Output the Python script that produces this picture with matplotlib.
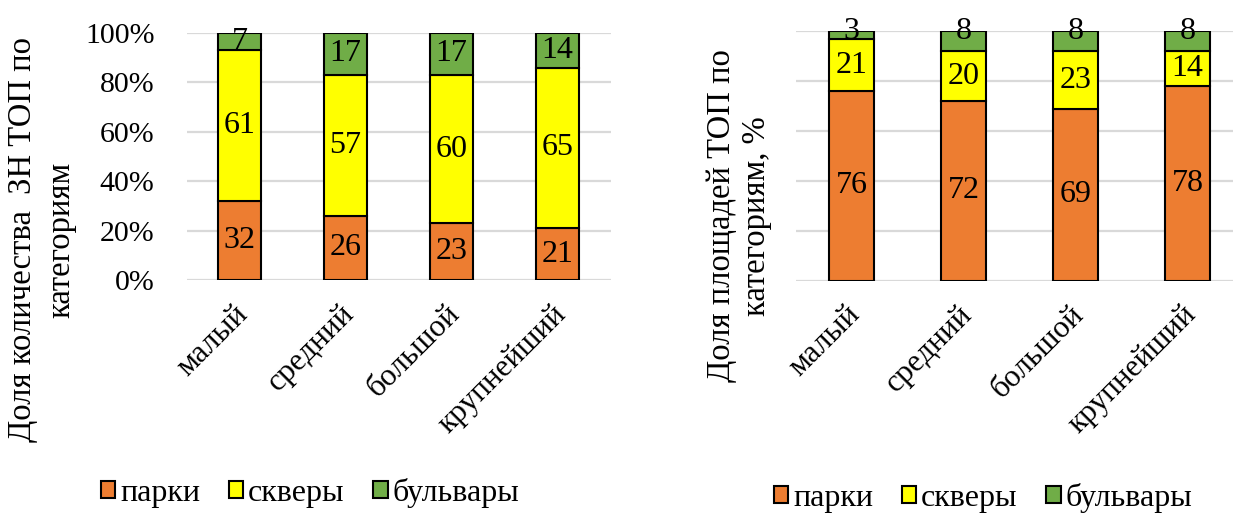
import matplotlib
matplotlib.use('Agg')
import matplotlib.pyplot as plt
import matplotlib.transforms as mtransforms
from matplotlib.patches import Patch
import numpy as np

plt.rcParams['font.family'] = ['Liberation Serif', 'DejaVu Serif']

categories = ['малый', 'средний', 'большой', 'крупнейший']
series_names = ['парки', 'скверы', 'бульвары']
colors = ['#ED7D31', '#FFFF00', '#70AD47']

# доля количества, %
count_parks = [32, 26, 23, 21]
count_squares = [61, 57, 60, 65]
count_blvd = [7, 17, 17, 14]

# доля площадей, %
area_parks = [76, 72, 69, 78]
area_squares = [21, 20, 23, 14]
area_blvd = [3, 8, 8, 8]

FS_LAB = 23      # bar labels
FS_CAT = 22.5    # category ticks
FS_Y = 21.5      # % ticks
FS_AX = 23.5     # axis titles
FS_LEG = 23

fig = plt.figure(figsize=(12.33, 5.13), dpi=100)
ax1 = fig.add_axes([0.1513, 0.4542, 0.3439, 0.4815])
ax2 = fig.add_axes([0.6452, 0.4532, 0.3633, 0.4854])

shift = mtransforms.ScaledTranslation(-6 / 100, 0, fig.dpi_scale_trans)


def draw(ax, data, top_label_at_edge):
    x = np.arange(len(categories))
    bottom = np.zeros(len(categories))
    for i, (vals, col) in enumerate(zip(data, colors)):
        vals = np.array(vals, dtype=float)
        ax.bar(x, vals, 0.4, bottom=bottom, color=col, edgecolor='black',
               linewidth=1.5, zorder=3)
        for xi, b, v in zip(x, bottom, vals):
            if top_label_at_edge and i == len(data) - 1:
                y = b + v
            else:
                y = b + v / 2
            ax.text(xi, y, '%d' % v, ha='center', va='center',
                    fontsize=FS_LAB, zorder=4)
        bottom += vals
    ax.set_xlim(-0.5, 3.5)
    ax.set_ylim(0, 100)
    ax.set_yticks(np.arange(0, 101, 20))
    ax.yaxis.grid(True, color='#D9D9D9', linewidth=1.6)
    ax.set_axisbelow(True)
    for s in ax.spines.values():
        s.set_visible(False)
    ax.tick_params(length=0)
    ax.set_xticks(x)
    ax.set_xticklabels(categories, rotation=45, ha='right', va='top',
                       rotation_mode='anchor', fontsize=FS_CAT)
    ax.tick_params(axis='x', pad=14)
    for lbl in ax.get_xticklabels():
        lbl.set_transform(lbl.get_transform() + shift)


draw(ax1, [count_parks, count_squares, count_blvd], False)
draw(ax2, [area_parks, area_squares, area_blvd], True)

ax1.set_yticklabels(['%d%%' % v for v in range(0, 101, 20)], fontsize=FS_Y)
ax1.tick_params(axis='y', pad=23)
ax2.set_yticklabels([])

fig.text(42 / 1233, 1 - 240 / 513, 'Доля количества  ЗН ТОП по\nкатегориям',
         rotation=90, ha='center', va='center', multialignment='center',
         fontsize=FS_AX, linespacing=1.3)
fig.text(739 / 1233, 1 - 216 / 513, 'Доля площадей ТОП по\nкатегориям, %',
         rotation=90, ha='center', va='center', multialignment='center',
         fontsize=FS_AX, linespacing=1.2)

handles = [Patch(facecolor=c, edgecolor='black', linewidth=1.5) for c in colors]
fig.legend(handles, series_names, loc='center', bbox_to_anchor=(310 / 1233, 1 - 493 / 513),
           ncol=3, frameon=False, fontsize=FS_LEG, handlelength=0.45, handleheight=0.45,
           handletextpad=0.15, columnspacing=0.9)
fig.legend(handles, series_names, loc='center', bbox_to_anchor=(983 / 1233, 1 - 498 / 513),
           ncol=3, frameon=False, fontsize=FS_LEG, handlelength=0.45, handleheight=0.45,
           handletextpad=0.15, columnspacing=0.9)

plt.savefig('out.png', dpi=100)
